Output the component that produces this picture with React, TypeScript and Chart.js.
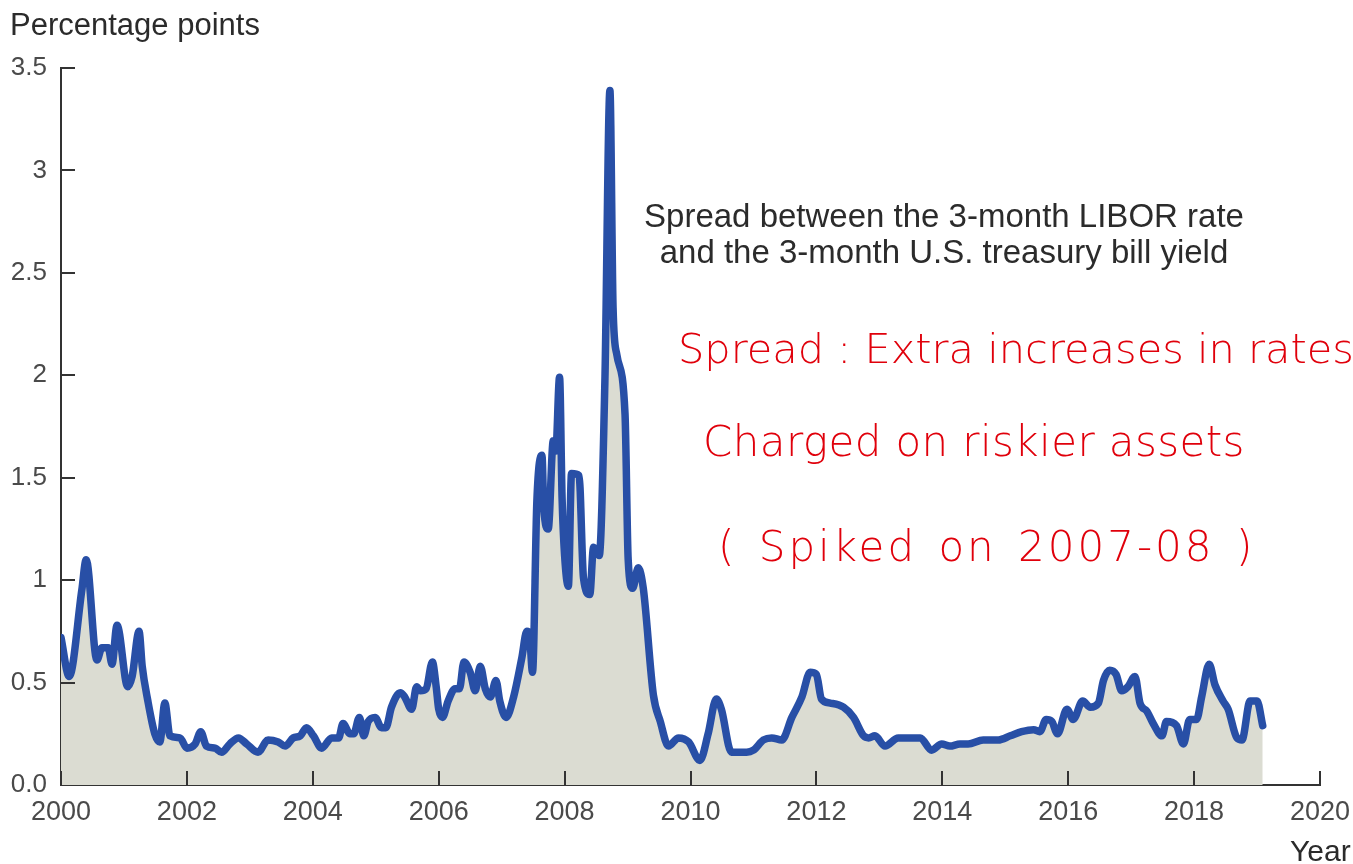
import React, { useEffect, useRef } from "react";
import { Chart, registerables } from "chart.js";

Chart.register(...registerables);

// Decimal year of each reading
const dates: number[] = [
  2000.0, 2000.13, 2000.33, 2000.4, 2000.57, 2000.65, 2000.75, 2000.81, 2000.89, 2001.06,
  2001.13, 2001.24, 2001.29, 2001.38, 2001.49, 2001.57, 2001.65, 2001.73, 2001.89, 2002.0,
  2002.13, 2002.22, 2002.31, 2002.45, 2002.55, 2002.68, 2002.82, 2002.95, 2003.13, 2003.29,
  2003.45, 2003.56, 2003.69, 2003.8, 2003.9, 2004.01, 2004.14, 2004.3, 2004.41, 2004.48,
  2004.59, 2004.65, 2004.74, 2004.81, 2004.88, 2004.99, 2005.09, 2005.16, 2005.25, 2005.39,
  2005.46, 2005.57, 2005.65, 2005.71, 2005.8, 2005.9, 2005.96, 2006.0, 2006.06, 2006.15,
  2006.26, 2006.33, 2006.4, 2006.5, 2006.58, 2006.66, 2006.74, 2006.82, 2006.91, 2006.97,
  2007.07, 2007.19, 2007.32, 2007.4, 2007.44, 2007.49, 2007.56, 2007.64, 2007.67, 2007.74,
  2007.82, 2007.86, 2007.92, 2007.96, 2008.0, 2008.06, 2008.11, 2008.23, 2008.3, 2008.4,
  2008.46, 2008.55, 2008.64, 2008.72, 2008.77, 2008.83, 2008.96, 2009.01, 2009.08, 2009.17,
  2009.25, 2009.41, 2009.52, 2009.65, 2009.81, 2009.97, 2010.15, 2010.28, 2010.41, 2010.49,
  2010.65, 2010.79, 2010.89, 2011.0, 2011.16, 2011.29, 2011.45, 2011.61, 2011.77, 2011.9,
  2012.0, 2012.08, 2012.22, 2012.43, 2012.59, 2012.75, 2012.83, 2012.93, 2013.09, 2013.3,
  2013.49, 2013.65, 2013.83, 2013.99, 2014.12, 2014.28, 2014.41, 2014.65, 2014.89, 2015.08,
  2015.26, 2015.45, 2015.55, 2015.65, 2015.74, 2015.83, 2015.98, 2016.08, 2016.23, 2016.35,
  2016.48, 2016.56, 2016.66, 2016.76, 2016.85, 2016.95, 2017.06, 2017.14, 2017.25, 2017.35,
  2017.49, 2017.56, 2017.72, 2017.83, 2017.93, 2018.04, 2018.12, 2018.24, 2018.33, 2018.46,
  2018.54, 2018.68, 2018.76, 2018.89, 2019.0, 2019.09,
];

// LIBOR – T-bill spread, percentage points
const spread: number[] = [
  0.72, 0.53, 0.95, 1.1, 0.61, 0.67, 0.67, 0.59, 0.78, 0.48,
  0.53, 0.75, 0.58, 0.41, 0.25, 0.21, 0.4, 0.24, 0.23, 0.18,
  0.2, 0.26, 0.19, 0.18, 0.16, 0.2, 0.23, 0.2, 0.16, 0.22,
  0.21, 0.19, 0.23, 0.24, 0.28, 0.24, 0.18, 0.23, 0.23, 0.3,
  0.25, 0.25, 0.33, 0.24, 0.31, 0.33, 0.28, 0.28, 0.38, 0.45,
  0.43, 0.37, 0.48, 0.46, 0.47, 0.6, 0.48, 0.37, 0.33, 0.41,
  0.47, 0.47, 0.6, 0.55, 0.46, 0.58, 0.47, 0.43, 0.51, 0.41,
  0.33, 0.43, 0.62, 0.75, 0.74, 0.55, 1.39, 1.61, 1.35, 1.25,
  1.68, 1.63, 1.99, 1.4, 1.12, 0.97, 1.52, 1.51, 1.01, 0.93,
  1.16, 1.12, 1.97, 3.39, 2.33, 2.1, 1.81, 1.1, 0.96, 1.06,
  0.96, 0.44, 0.31, 0.19, 0.23, 0.21, 0.12, 0.25, 0.42, 0.37,
  0.16, 0.16, 0.16, 0.17, 0.22, 0.23, 0.22, 0.33, 0.43, 0.55,
  0.54, 0.42, 0.4, 0.38, 0.33, 0.24, 0.23, 0.24, 0.19, 0.23,
  0.23, 0.23, 0.17, 0.2, 0.19, 0.2, 0.2, 0.22, 0.22, 0.24,
  0.26, 0.27, 0.26, 0.32, 0.31, 0.25, 0.37, 0.32, 0.41, 0.38,
  0.4, 0.51, 0.56, 0.54, 0.46, 0.48, 0.53, 0.4, 0.36, 0.3,
  0.24, 0.31, 0.29, 0.2, 0.32, 0.32, 0.43, 0.59, 0.49, 0.41,
  0.37, 0.23, 0.22, 0.41, 0.41, 0.29,
];

const xTickValues: number[] = [2000, 2002, 2004, 2006, 2008, 2010, 2012, 2014, 2016, 2018, 2020];
const yTickValues: number[] = [0, 0.5, 1, 1.5, 2, 2.5, 3, 3.5];
const yTickLabels: string[] = ["0.0", "0.5", "1", "1.5", "2", "2.5", "3", "3.5"];

const axisTitle = "Percentage points";
const xAxisTitle = "Year";
const seriesNote = ["Spread between the 3-month LIBOR rate", "and the 3-month U.S. treasury bill yield"];
const handNotes = ["Spread : Extra increases in rates", "Charged on riskier assets", "( Spiked on 2007-08 )"];

const FONT = "'Liberation Sans', Arial, Helvetica, sans-serif";
const HAND_FONT = "'DejaVu Sans', sans-serif";
const AXIS_COLOR = "#333333";
const LABEL_COLOR = "#4a4a4a";
const HAND_COLOR = "#e0000b";

const innerTicks = {
  id: "innerTicks",
  afterDatasetsDraw(chart: any) {
    const { ctx, chartArea, scales } = chart;
    ctx.save();
    ctx.strokeStyle = AXIS_COLOR;
    ctx.lineWidth = 2;
    ctx.lineCap = "butt";
    yTickValues.forEach((v) => {
      if (v === 0) return;
      const py = Math.round(scales.y.getPixelForValue(v));
      ctx.beginPath();
      ctx.moveTo(chartArea.left, py);
      ctx.lineTo(chartArea.left + 14, py);
      ctx.stroke();
    });
    xTickValues.forEach((v) => {
      const px = Math.round(scales.x.getPixelForValue(v));
      ctx.beginPath();
      ctx.moveTo(px, chartArea.bottom);
      ctx.lineTo(px, chartArea.bottom - 14);
      ctx.stroke();
    });
    ctx.restore();
  },
};

export default function App() {
  const canvasRef = useRef<HTMLCanvasElement | null>(null);

  useEffect(() => {
    const canvas = canvasRef.current;
    if (!canvas) return;
    const chart = new Chart(canvas, {
      type: "line",
      data: {
        datasets: [
          {
            data: dates.map((d, i) => ({ x: d, y: spread[i] })),
            borderColor: "#284fa6",
            backgroundColor: "#dbdcd2",
            fill: "origin",
            borderWidth: 7.5,
            pointRadius: 0,
            cubicInterpolationMode: "monotone",
            borderJoinStyle: "round",
            borderCapStyle: "round",
          } as any,
        ],
      },
      options: {
        responsive: false,
        animation: false,
        devicePixelRatio: 1,
        layout: { padding: { left: 0, top: 68, right: 33, bottom: 0 } },
        plugins: { legend: { display: false }, tooltip: { enabled: false } },
        scales: {
          x: {
            type: "linear",
            min: 2000,
            max: 2020,
            afterBuildTicks: (s: any) => {
              s.ticks = xTickValues.map((v) => ({ value: v }));
            },
            afterFit: (s: any) => {
              s.height = 79;
              s.paddingLeft = 0;
              s.paddingRight = 0;
            },
            grid: { display: true, drawOnChartArea: false, drawTicks: false },
            border: { display: true, color: AXIS_COLOR, width: 2 },
            ticks: {
              padding: 11,
              color: LABEL_COLOR,
              font: { family: FONT, size: 27 },
              maxRotation: 0,
              autoSkip: false,
              callback: (v: any) => String(v),
            },
          },
          y: {
            type: "linear",
            min: 0,
            max: 3.5,
            afterBuildTicks: (s: any) => {
              s.ticks = yTickValues.map((v) => ({ value: v }));
            },
            afterFit: (s: any) => {
              s.width = 61;
              s.paddingTop = 0;
              s.paddingBottom = 0;
            },
            grid: { display: true, drawOnChartArea: false, drawTicks: false },
            border: { display: true, color: AXIS_COLOR, width: 2 },
            ticks: {
              padding: 14,
              color: LABEL_COLOR,
              font: { family: FONT, size: 26 },
              autoSkip: false,
              callback: (v: any) => {
                const i = yTickValues.indexOf(Number(v));
                return i >= 0 ? yTickLabels[i] : "";
              },
            },
          },
        },
      } as any,
      plugins: [innerTicks],
    });
    return () => chart.destroy();
  }, []);

  const textBase: React.CSSProperties = {
    position: "absolute",
    fontFamily: FONT,
    whiteSpace: "nowrap",
    pointerEvents: "none",
  };
  const hand: React.CSSProperties = {
    ...textBase,
    lineHeight: 1,
    color: HAND_COLOR,
    fontFamily: HAND_FONT,
    fontWeight: 200,
  };

  return (
    <div style={{ position: "fixed", left: 0, top: 0, width: 1353, height: 864, background: "#ffffff", overflow: "hidden" }}>
      <canvas ref={canvasRef} width={1353} height={864} style={{ position: "absolute", left: 0, top: 0, width: 1353, height: 864 }} />
      <div style={{ ...textBase, left: 10, top: 9, fontSize: 31, lineHeight: 1, color: "#2b2b2b" }}>{axisTitle}</div>
      <div style={{ ...textBase, left: 1290, top: 836, fontSize: 30, lineHeight: 1, color: "#2b2b2b" }}>{xAxisTitle}</div>
      <div style={{ ...textBase, left: 544, top: 198, width: 800, textAlign: "center", fontSize: 33, lineHeight: "36px", color: "#2b2b2b" }}>
        {seriesNote.map((s, i) => (
          <div key={i}>{s}</div>
        ))}
      </div>
      <div style={{ ...hand, left: 678, top: 328, fontSize: 41.5 }}>{handNotes[0]}</div>
      <div style={{ ...hand, left: 703, top: 421, fontSize: 42, letterSpacing: 0.4 }}>{handNotes[1]}</div>
      <div style={{ ...hand, left: 718, top: 526, fontSize: 42, letterSpacing: 3, wordSpacing: 5 }}>{handNotes[2]}</div>
    </div>
  );
}
